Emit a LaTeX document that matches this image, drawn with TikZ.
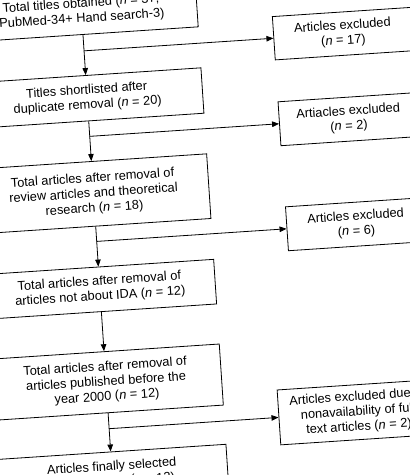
\documentclass[tikz,border=0pt]{standalone}
\usepackage{fontspec}
\setmainfont{Liberation Sans}
\usetikzlibrary{arrows.meta}
\begin{document}
\begin{tikzpicture}[x=1pt,y=-1pt,
  box/.style={draw,line width=0.8pt,align=center,inner sep=0pt,font=\fontsize{12.8}{15}\selectfont},
  lbox/.style={box,minimum width=231pt},
  rbox/.style={box,minimum width=138.6pt},
  arr/.style={line width=0.8pt,-{Triangle[length=7pt,width=5.5pt]}}]
\useasboundingbox (0,0) rectangle (410,475);
\clip (0,0) rectangle (410,475);
\begin{scope}[rotate=3.8,transform shape]
\node[lbox,minimum height=45.8pt] (b1) at (80.5,17) {Total titles obtained (\textit{n} = 37;\\PubMed-34+ Hand search-3)};
\node[lbox,minimum height=45.5pt] (b2) at (80.5,103.75) {Titles shortlisted after\\duplicate removal (\textit{n} = 20)};
\node[lbox,minimum height=64.8pt] (b3) at (80.5,199.6) {Total articles after removal of\\review articles and theoretical\\research (\textit{n} = 18)};
\node[lbox,minimum height=44.7pt] (b4) at (80.5,295.3) {Total articles after removal of\\articles not about IDA (\textit{n} = 12)};
\node[lbox,minimum height=61.2pt] (b5) at (80.5,388.4) {Total articles after removal of\\articles published before the\\year 2000 (\textit{n} = 12)};
\node[lbox,minimum height=45pt] (b6) at (80.5,480.8) {Articles finally selected\\for the review (\textit{n} = 12)};
\node[rbox,minimum height=43.4pt] (r1) at (340,56.3) {Articles excluded\\(\textit{n} = 17)};
\node[rbox,minimum height=44pt] (r2) at (340,142) {Artiacles excluded\\(\textit{n} = 2)};
\node[rbox,minimum height=44pt] (r3) at (340.5,247.3) {Articles excluded\\(\textit{n} = 6)};
\node[box,minimum width=158.6pt,minimum height=55pt] (r4) at (330,435) {Articles excluded due to\\nonavailability of full\\text articles (\textit{n} = 2)};
\coordinate (j1) at (80.5,56.3);
\coordinate (j2) at (80.5,142);
\coordinate (j3) at (80.5,247.3);
\coordinate (j5) at (80.5,435);
\draw[arr] (b1.south) -- (b2.north);
\draw[arr] (b2.south) -- (b3.north);
\draw[arr] (b3.south) -- (b4.north);
\draw[arr] (b4.south) -- (b5.north);
\draw[arr] (b5.south) -- (b6.north);
\draw[arr] (j1) -- (r1.west);
\draw[arr] (j2) -- (r2.west);
\draw[arr] (j3) -- (r3.west);
\draw[arr] (j5) -- (r4.west);
\end{scope}
\end{tikzpicture}
\end{document}
